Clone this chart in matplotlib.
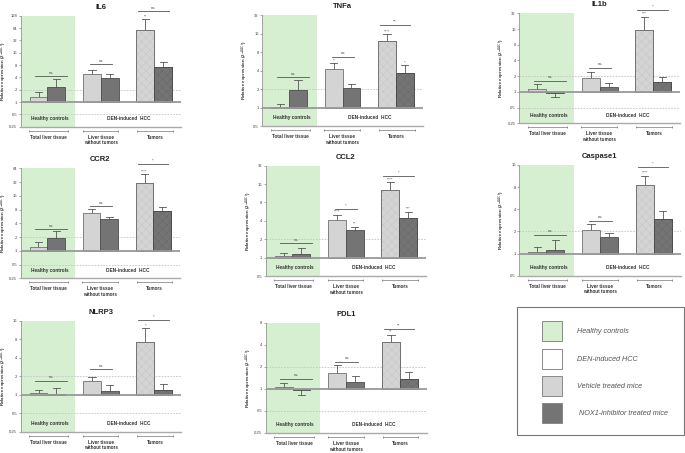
import matplotlib
matplotlib.use("Agg")
import matplotlib.pyplot as plt
import matplotlib.transforms as mtransforms
from matplotlib.patches import Rectangle
from matplotlib.ticker import FixedLocator, FixedFormatter

plt.rcParams['font.family'] = ['Liberation Sans', 'DejaVu Sans']
plt.rcParams['hatch.linewidth'] = 0.35

W, H = 685, 453

genes = ['IL6', 'TNFa', 'IL1b', 'CCR2', 'CCL2', 'Caspase1', 'NLRP3', 'PDL1']
groups = ['Total liver tissue', 'Liver tissue\nwithout tumors', 'Tumors']

# bar heights (2^-ddCt) and upper/lower error ends, per group
vehicle = [[1.3, 4.9, 57], [1.04, 4.2, 12.4], [1.14, 1.88, 15.5], [1.2, 6.7, 30],
           [1.07, 4.1, 12.7], [1.05, 2.12, 8.5], [1.06, 1.67, 7.3], [1.05, 1.67, 4.35]]
vehicle_err = [[1.75, 6.2, 106], [1.16, 5.3, 15.6], [1.44, 2.42, 27.7], [1.52, 8.3, 48],
               [1.19, 5.0, 17.2], [1.22, 2.53, 11.5], [1.19, 1.94, 12.1], [1.2, 2.1, 5.5]]
nox1 = [[2.27, 3.9, 7.0], [1.9, 2.07, 3.7], [0.97, 1.25, 1.53], [1.89, 4.9, 7.5],
        [1.16, 2.8, 4.5], [1.11, 1.67, 2.96], [1.03, 1.16, 1.2], [0.97, 1.23, 1.39]]
nox1_err = [[3.7, 4.7, 9.6], [2.77, 2.4, 4.9], [0.8, 1.47, 1.94], [2.78, 5.5, 9.0],
            [1.42, 3.2, 5.6], [1.52, 1.89, 3.76], [1.28, 1.44, 1.49], [0.82, 1.49, 1.73]]

ylims = [(0.25, 128), (0.5, 32), (0.25, 32), (0.25, 64),
         (0.5, 32), (0.5, 16), (0.25, 16), (0.25, 8)]

# significance vehicle vs NOX1 in each group, and height of the bracket
sig_text = [['ns', 'ns', 'ns'], ['ns', 'ns', '**'], ['ns', 'ns', '*'], ['ns', 'ns', '*'],
            ['ns', '*', '*'], ['ns', 'ns', '*'], ['ns', 'ns', '*'], ['ns', 'ns', '**']]
sig_y = [[4.3, 8.5, 165], [3.1, 6.8, 21.9], [1.65, 2.9, 37], [3.03, 9.5, 79],
         [1.72, 6.3, 21.9], [1.8, 2.8, 14.8], [1.67, 2.6, 16.2], [1.36, 2.37, 6.6]]

# stars vs healthy controls, over each bar (veh, nox) x group
stars = [['', '', '', '', '**', ''], ['', '', '*', '', '****', '*'],
         ['', '', '', '', '***', ''], ['', '', '', '', '****', ''],
         ['', '', '****', '**', '****', '***'], ['', '', '', '', '****', ''],
         ['', '', '', '', '*', ''], ['', '', '', '', '**', '']]

legend_labels = ['Healthy controls', 'DEN-induced HCC',
                 'Vehicle treated mice', 'NOX1-inhibitor treated mice']

# panel boxes in pixels: left, top, right, bottom
boxes = [(20.7, 15.7, 181, 126.7), (262.3, 15.3, 422.7, 126), (519.3, 13.3, 680, 123.3),
         (20.7, 168.3, 180, 278.3), (265.7, 165.7, 426, 276), (519.3, 165, 680.7, 275.7),
         (20.7, 320.7, 181, 431.7), (265.7, 323, 426.7, 433)]

GREEN = '#d7efd1'
LIGHT = '#d4d4d4'
DARK = '#747474'
centers = [1.5, 4.5, 7.5]
sig_span = [(0.8, 2.6), (3.9, 5.15), (6.6, 8.3)]
brackets = [(0.47, 2.68), (3.48, 5.49), (6.55, 8.54)]

fig = plt.figure(figsize=(W / 100, H / 100), dpi=100)


def panel(i):
    l, t, r, b = boxes[i]
    ax = fig.add_axes([l / W, 1 - b / H, (r - l) / W, (b - t) / H])
    lo, hi = ylims[i]
    ax.set_yscale('log', base=2)
    ax.set_ylim(lo, hi)
    ax.set_xlim(0, 9)
    ax.axvspan(0, 3.05, color=GREEN, lw=0, zorder=0)

    ticks = []
    v = lo
    while v <= hi * 1.001:
        ticks.append(v)
        v *= 2
    ax.yaxis.set_major_locator(FixedLocator(ticks))
    ax.yaxis.set_minor_locator(FixedLocator([]))
    ax.yaxis.set_major_formatter(FixedFormatter(['%g' % t for t in ticks]))
    ax.tick_params(axis='y', labelsize=3, length=1.5, width=0.4, pad=1,
                   colors='#666', labelcolor='#444')
    ax.set_xticks([])
    for s in ['top', 'right']:
        ax.spines[s].set_visible(False)
    ax.spines['left'].set_color('#888')
    ax.spines['left'].set_linewidth(0.5)
    ax.spines['bottom'].set_color('#aaa')
    ax.spines['bottom'].set_linewidth(1.0)

    for ref in (2, 0.5):
        if lo < ref < hi:
            ax.axhline(ref, color='#c4c4c4', lw=0.6, ls=(0, (2, 1.5)), zorder=1)
    ax.axhline(1, color='#999', lw=1.3, zorder=4)

    for g in range(3):
        for k, (vals, errs, col, edge) in enumerate(
                [(vehicle, vehicle_err, LIGHT, '#707070'), (nox1, nox1_err, DARK, '#4d4d4d')]):
            x = centers[g] - 0.5 + k
            val = vals[i][g]
            e = errs[i][g]
            ax.plot([x, x], [val, e], color='#555', lw=0.6, zorder=2)
            ax.plot([x - 0.2, x + 0.2], [e, e], color='#555', lw=0.6, zorder=2)
            ax.bar(x, val - 1, bottom=1, width=1.0, color=col, edgecolor=edge,
                   lw=0.6, zorder=3)
            if g == 2:
                ax.bar(x, val - 1, bottom=1, width=1.0, color='none',
                       edgecolor='#c6c6c6' if k == 0 else '#686868',
                       hatch='xxxx', lw=0, zorder=3)
                ax.bar(x, val - 1, bottom=1, width=1.0, color='none', edgecolor=edge,
                       lw=0.6, zorder=3)
            st = stars[i][2 * g + k]
            if st:
                ax.text(x, e * 1.03, st, ha='center', va='bottom', fontsize=3,
                        color='#555', zorder=5)
        x0, x1 = sig_span[g]
        ax.plot([x0, x1], [sig_y[i][g]] * 2, color='#555', lw=0.6, clip_on=False, zorder=5)
        ax.text((x0 + x1) / 2, sig_y[i][g] * 1.06, sig_text[i][g], ha='center',
                va='bottom', fontsize=3.2, color='#555', clip_on=False)

    trans = mtransforms.blended_transform_factory(ax.transData, ax.transAxes)
    ax.text(1.65, 0.075, 'Healthy controls', transform=trans, ha='center', va='center',
            fontsize=3.4, fontweight='bold', color='#333')
    ax.text(6.05, 0.075, 'DEN-induced  HCC', transform=trans, ha='center', va='center',
            fontsize=3.4, fontweight='bold', color='#333')
    for g in range(3):
        x0, x1 = brackets[g]
        ax.plot([x0, x1], [-0.035, -0.035], transform=trans, clip_on=False, color='#777',
                lw=0.5, marker='|', markersize=2, markeredgewidth=0.5)
        ax.text((x0 + x1) / 2, -0.072, groups[g], transform=trans, ha='center', va='top',
                fontsize=3.3, fontweight='bold', color='#333', linespacing=1.15)

    ax.set_title(genes[i], fontsize=5.5, fontweight='bold', pad=5, color='#222')
    ax.set_ylabel(r'Relative expression (2$^{-\Delta\Delta Ct}$)', fontsize=3.2,
                  fontweight='bold', color='#333')
    ax.yaxis.set_label_coords(-0.074, 0.5)


for i in range(len(genes)):
    panel(i)

# legend box drawn in pixel coordinates
lg = fig.add_axes([0, 0, 1, 1], zorder=10)
lg.set_xlim(0, W)
lg.set_ylim(H, 0)
lg.axis('off')
lg.patch.set_alpha(0)
lg.add_patch(Rectangle((517.3, 307.3), 166.5, 127.4, fill=False, ec='#777', lw=0.8))
swatch = [GREEN, 'white', LIGHT, DARK]
swatch_top = [320.7, 349, 376, 402.7]
text_x = [576.7, 577.5, 576.7, 579]
for c, y, tx, lab in zip(swatch, swatch_top, text_x, legend_labels):
    lg.add_patch(Rectangle((542.3, y), 20, 20, fc=c, ec='#888', lw=0.7))
    lg.text(tx, y + 10.5, lab, ha='left', va='center', fontsize=5.2, style='italic',
            color='#555')

fig.savefig('out.png', dpi=100)
